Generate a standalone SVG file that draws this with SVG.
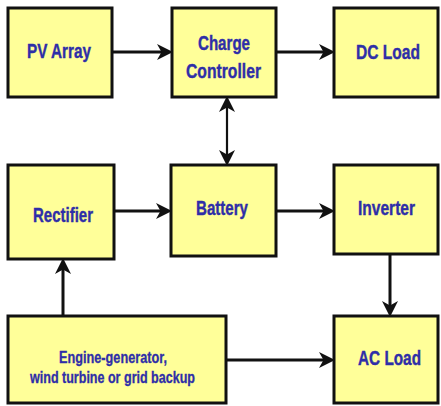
<svg xmlns="http://www.w3.org/2000/svg" width="441" height="406" viewBox="0 0 441 406">
<style>
.box{fill:#ffff99;stroke:#111;stroke-width:3}
.lbl{font-family:"Liberation Sans",Arial,sans-serif;font-weight:bold;font-size:21px;fill:#2e2ea8;stroke:#2e2ea8;stroke-width:0.4;text-anchor:middle}
.sm{font-size:16.5px;stroke-width:0.3}
.c{stroke:#111;stroke-width:3;fill:none}
.thin{stroke-width:2.2}
</style>
<defs>
<marker id="ah" viewBox="0 0 16 16" markerWidth="16" markerHeight="16" refX="12" refY="8" markerUnits="userSpaceOnUse" orient="auto-start-reverse">
<path d="M0,0 L16,8 L0,16 L4.5,8 z" fill="#111"/>
</marker>
</defs>
<rect width="441" height="406" fill="#fff"/>
<g id="connectors">
<line class="c" x1="112" y1="52" x2="169" y2="52" marker-end="url(#ah)"/>
<line class="c" x1="276" y1="52" x2="331" y2="52" marker-end="url(#ah)"/>
<line class="c thin" x1="227" y1="100" x2="227" y2="162" marker-start="url(#ah)" marker-end="url(#ah)"/>
<line class="c" x1="114" y1="211" x2="168" y2="211" marker-end="url(#ah)"/>
<line class="c" x1="276" y1="211" x2="331" y2="211" marker-end="url(#ah)"/>
<line class="c" x1="390" y1="254" x2="390" y2="313" marker-end="url(#ah)"/>
<line class="c" x1="63" y1="316" x2="63" y2="262" marker-end="url(#ah)"/>
<line class="c" x1="226" y1="360" x2="331" y2="360" marker-end="url(#ah)"/>
</g>
<g id="pv-array">
<rect class="box" x="8" y="8" width="104" height="89"/>
<text class="lbl" x="59" y="58" textLength="64" lengthAdjust="spacingAndGlyphs">PV Array</text>
</g>
<g id="charge-controller">
<rect class="box" x="172" y="8" width="104" height="89"/>
<text class="lbl" x="224" y="50" textLength="52" lengthAdjust="spacingAndGlyphs">Charge</text>
<text class="lbl" x="223.5" y="78" textLength="75" lengthAdjust="spacingAndGlyphs">Controller</text>
</g>
<g id="dc-load">
<rect class="box" x="334" y="8" width="104" height="89"/>
<text class="lbl" x="388" y="59" textLength="64" lengthAdjust="spacingAndGlyphs">DC Load</text>
</g>
<g id="rectifier">
<rect class="box" x="8" y="165" width="106" height="94"/>
<text class="lbl" x="63" y="222" textLength="60" lengthAdjust="spacingAndGlyphs">Rectifier</text>
</g>
<g id="battery">
<rect class="box" x="171" y="165" width="105" height="91"/>
<text class="lbl" x="222" y="215" textLength="52" lengthAdjust="spacingAndGlyphs">Battery</text>
</g>
<g id="inverter">
<rect class="box" x="334" y="165" width="104" height="89"/>
<text class="lbl" x="386.5" y="215" textLength="57" lengthAdjust="spacingAndGlyphs">Inverter</text>
</g>
<g id="engine-generator">
<rect class="box" x="8" y="316" width="218" height="87"/>
<text class="lbl sm" x="113" y="363" textLength="108" lengthAdjust="spacingAndGlyphs">Engine-generator,</text>
<text class="lbl sm" x="112.5" y="383" textLength="165" lengthAdjust="spacingAndGlyphs">wind turbine or grid backup</text>
</g>
<g id="ac-load">
<rect class="box" x="334" y="316" width="104" height="87"/>
<text class="lbl" x="389.5" y="365" textLength="63" lengthAdjust="spacingAndGlyphs">AC Load</text>
</g>
</svg>
